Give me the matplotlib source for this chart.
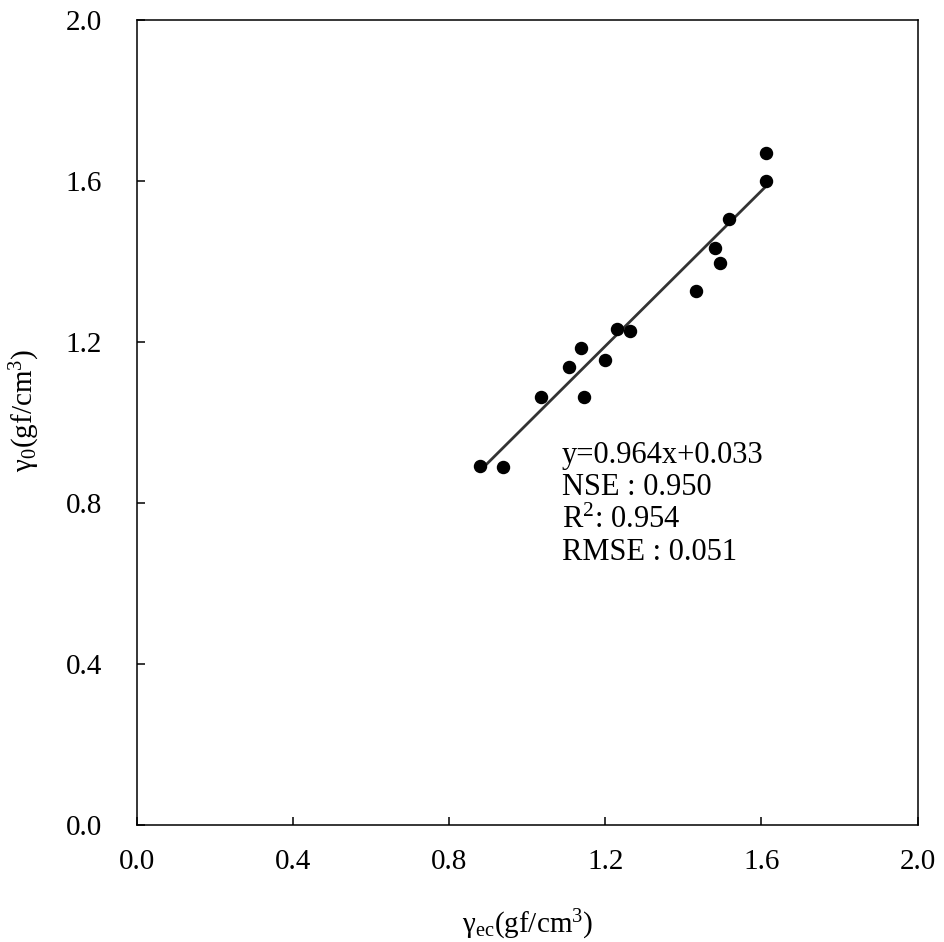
import matplotlib.pyplot as plt

plt.rcParams["font.family"] = ["Liberation Serif", "DejaVu Serif"]
plt.rcParams["mathtext.fontset"] = "custom"
plt.rcParams["mathtext.rm"] = "Liberation Serif"
plt.rcParams["mathtext.it"] = "Liberation Serif:italic"

gamma_ec = [0.878, 0.937, 1.035, 1.106, 1.137, 1.145, 1.198, 1.229, 1.262,
            1.431, 1.482, 1.493, 1.518, 1.611, 1.611]
gamma_0 = [0.892, 0.889, 1.063, 1.138, 1.185, 1.063, 1.155, 1.232, 1.227,
           1.327, 1.434, 1.396, 1.506, 1.670, 1.600]

# Regression line
slope, intercept = 0.964, 0.033
fit_x = [0.88, 1.61]
fit_y = [slope * x + intercept for x in fit_x]

stats = ["y=0.964x+0.033", "NSE : 0.950", "R$^2$: 0.954", "RMSE : 0.051"]
ticks = [0.0, 0.4, 0.8, 1.2, 1.6, 2.0]

fig = plt.figure(figsize=(9.45, 9.42), dpi=100)
ax = fig.add_axes([0.145, 0.124, 0.826, 0.855])

ax.plot(fit_x, fit_y, color="#333333", linewidth=2.0, zorder=2)
ax.scatter(gamma_ec, gamma_0, s=75, color="black", zorder=3)

ax.set_xlim(0, 2.0)
ax.set_ylim(0, 2.0)
ax.set_xticks(ticks)
ax.set_yticks(ticks)
ax.set_xticklabels([f"{t:.1f}" for t in ticks])
ax.set_yticklabels([f"{t:.1f}" for t in ticks])
ax.tick_params(direction="in", length=6, width=1.1, labelsize=21)
ax.tick_params(axis="x", pad=17)
ax.tick_params(axis="y", pad=25)
for s in ax.spines.values():
    s.set_linewidth(1.1)

ax.set_xlabel("γ$_{\\mathrm{ec}}$(gf/cm$^{3}$)", fontsize=21, va="center")
ax.xaxis.set_label_coords(0.5, -0.124)
ax.set_ylabel("γ$_{0}$(gf/cm$^{3}$)", fontsize=21, va="center")
ax.yaxis.set_label_coords(-0.143, 0.515)

for i, line in enumerate(stats):
    ypix = 463 + 32.3 * i
    ax.text(1.088, (825 - ypix) / 402.5, line, fontsize=22, va="baseline", ha="left")

fig.savefig("out.png", dpi=100)
